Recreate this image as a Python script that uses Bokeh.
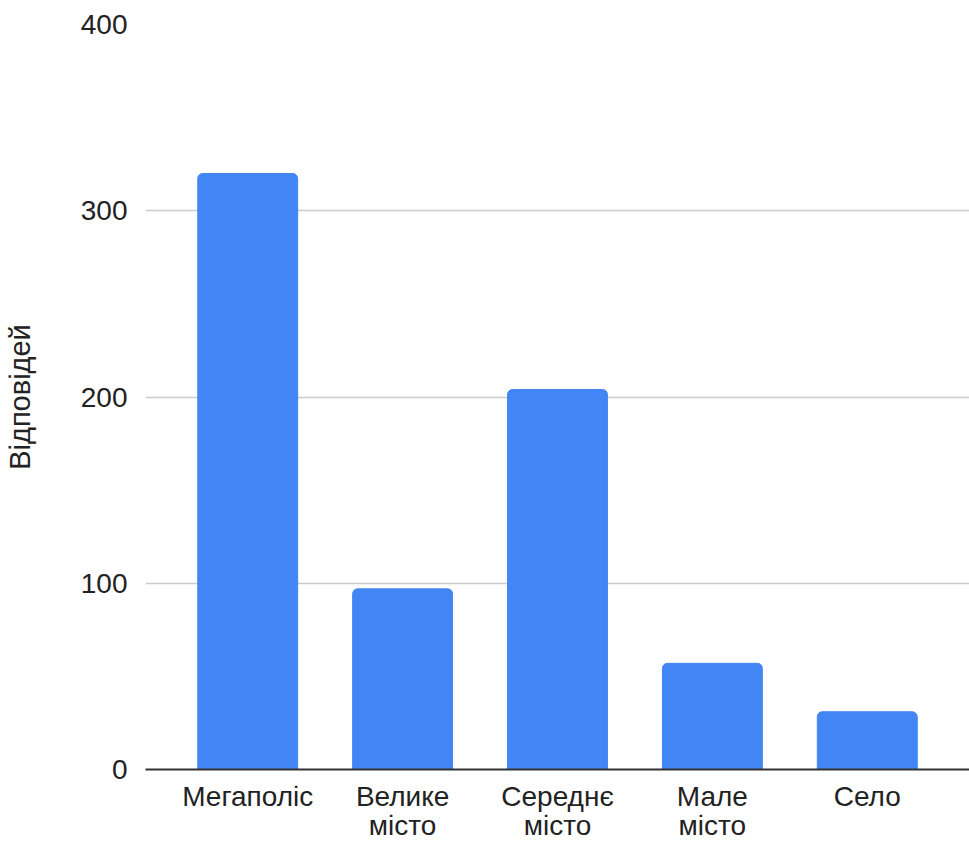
from bokeh.plotting import figure
from bokeh.models import FactorRange, Range1d, FixedTicker
from bokeh.embed import file_html
from bokeh.resources import INLINE

categories = ["Мегаполіс", "Велике\nмісто", "Середнє\nмісто", "Мале\nмісто", "Село"]
values = [320, 97, 204, 57, 31]
y_ticks = [0, 100, 200, 300, 400]
y_title = "Відповідей"

FONT = "Liberation Sans"

p = figure(
    x_range=FactorRange(*categories, range_padding=0.16, range_padding_units="absolute"),
    y_range=Range1d(0, 400),
    width=969, height=843,
    output_backend="svg", toolbar_location=None,
    min_border_left=145, min_border_right=0, min_border_top=24, min_border_bottom=60,
)
p.outline_line_color = None
p.background_fill_color = "white"
p.border_fill_color = "white"

p.vbar(x=categories, top=values, width=0.645, color="#4285F4", border_radius=(5, 5, 0, 0))

p.yaxis.ticker = FixedTicker(ticks=y_ticks)
p.yaxis.axis_line_color = None
p.yaxis.major_tick_line_color = None
p.yaxis.minor_tick_line_color = None
p.yaxis.major_label_standoff = 12
p.yaxis.major_label_text_font = FONT
p.yaxis.major_label_text_font_size = "28px"
p.yaxis.major_label_text_color = "#222222"
p.yaxis.axis_label = y_title
p.yaxis.axis_label_text_font = FONT
p.yaxis.axis_label_text_font_size = "29px"
p.yaxis.axis_label_text_font_style = "normal"
p.yaxis.axis_label_text_color = "#222222"
p.yaxis.axis_label_standoff = 42

p.xaxis.axis_line_color = "#333333"
p.xaxis.axis_line_width = 2
p.xaxis.major_tick_line_color = None
p.xaxis.minor_tick_line_color = None
p.xaxis.major_label_standoff = 5
p.xaxis.major_label_text_font = FONT
p.xaxis.major_label_text_font_size = "28px"
p.xaxis.major_label_text_color = "#222222"
p.xaxis.major_label_text_line_height = 0.95
p.xaxis.group_text_font_size = "0px"

p.xgrid.grid_line_color = None
p.ygrid.grid_line_color = "#cccccc"
p.ygrid.grid_line_width = 1.5

open("out.html", "w").write(file_html(p, INLINE))
